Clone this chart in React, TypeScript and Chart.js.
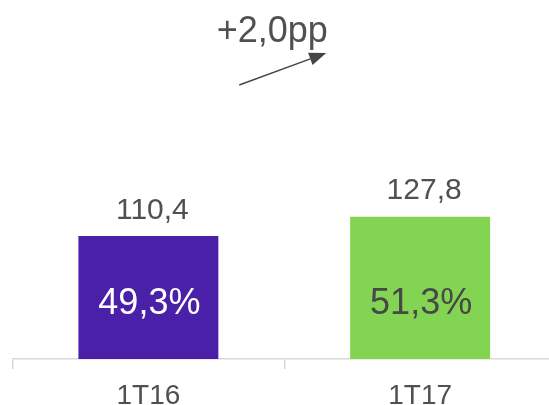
import { useEffect, useRef } from "react";
import { Chart, registerables } from "chart.js";

Chart.register(...registerables);

const categories = ["1T16", "1T17"];
const values = [110.4, 127.8];
const shares = ["49,3%", "51,3%"];
const deltaLabel = "+2,0pp";
const barColors = ["#4B20A8", "#82D452"];
const shareColors = ["#FFFFFF", "#474747"];

const FONT = '"Liberation Sans", Arial, sans-serif';
const TEXT = "#505050";
const AXIS = "#d9d9d9";

const labelsPlugin = {
  id: "labelsPlugin",
  afterDatasetsDraw(chart: any) {
    const ctx = chart.ctx;
    const meta = chart.getDatasetMeta(0);
    const area = chart.chartArea;
    ctx.save();
    ctx.textAlign = "center";
    ctx.textBaseline = "alphabetic";
    meta.data.forEach((bar: any, i: number) => {
      const { x, y } = bar.getProps(["x", "y"], true);
      ctx.font = `30px ${FONT}`;
      ctx.fillStyle = TEXT;
      ctx.fillText(values[i].toFixed(1).replace(".", ","), x + 4, y - 17.5);
      ctx.font = `36px ${FONT}`;
      ctx.fillStyle = shareColors[i];
      ctx.fillText(shares[i], x + 1, area.bottom - 45);
    });

    // delta annotation
    const xs = chart.scales.x;
    const mid = (xs.getPixelForValue(0) + xs.getPixelForValue(1)) / 2;
    ctx.font = `36px ${FONT}`;
    ctx.fillStyle = TEXT;
    ctx.fillText(deltaLabel, mid - 12, 42);

    const x1 = mid - 45, y1 = 85, x2 = mid + 42, y2 = 53;
    const ang = Math.atan2(y2 - y1, x2 - x1);
    const headLen = 17, headHalf = 6.5;
    const bx = x2 - headLen * Math.cos(ang);
    const by = y2 - headLen * Math.sin(ang);
    ctx.strokeStyle = "#454545";
    ctx.lineWidth = 1.5;
    ctx.beginPath();
    ctx.moveTo(x1, y1);
    ctx.lineTo(bx, by);
    ctx.stroke();
    ctx.fillStyle = "#454545";
    ctx.beginPath();
    ctx.moveTo(x2, y2);
    ctx.lineTo(bx + headHalf * Math.sin(ang), by - headHalf * Math.cos(ang));
    ctx.lineTo(bx - headHalf * Math.sin(ang), by + headHalf * Math.cos(ang));
    ctx.closePath();
    ctx.fill();
    ctx.restore();
  },
};

export default function App() {
  const ref = useRef<HTMLCanvasElement | null>(null);

  useEffect(() => {
    if (!ref.current) return;
    const chart = new Chart(ref.current, {
      type: "bar",
      data: {
        labels: categories,
        datasets: [
          {
            data: values,
            backgroundColor: barColors,
            borderWidth: 0,
            barPercentage: 0.515,
            categoryPercentage: 1,
          },
        ],
      },
      options: {
        responsive: false,
        maintainAspectRatio: false,
        devicePixelRatio: 1,
        animation: false,
        layout: { padding: { left: 12.5, right: 4, top: 25, bottom: 0 } },
        plugins: {
          legend: { display: false },
          tooltip: { enabled: false },
        },
        scales: {
          x: {
            grid: {
              offset: true,
              drawOnChartArea: false,
              drawTicks: true,
              tickLength: 10,
              color: AXIS,
              lineWidth: 1.5,
            },
            border: { display: true, color: AXIS, width: 1.5 },
            ticks: {
              color: TEXT,
              padding: 13,
              font: { size: 28, family: FONT, lineHeight: 1 },
            },
          },
          y: {
            display: false,
            min: 0,
            max: 300,
          },
        },
      },
      plugins: [labelsPlugin],
    });
    return () => chart.destroy();
  }, []);

  return (
    <div
      style={{
        position: "fixed",
        left: 0,
        top: 0,
        width: 549,
        height: 405,
        overflow: "hidden",
        background: "#ffffff",
      }}
    >
      <canvas
        ref={ref}
        width={560}
        height={423}
        style={{ display: "block", width: 560, height: 423 }}
      />
    </div>
  );
}
